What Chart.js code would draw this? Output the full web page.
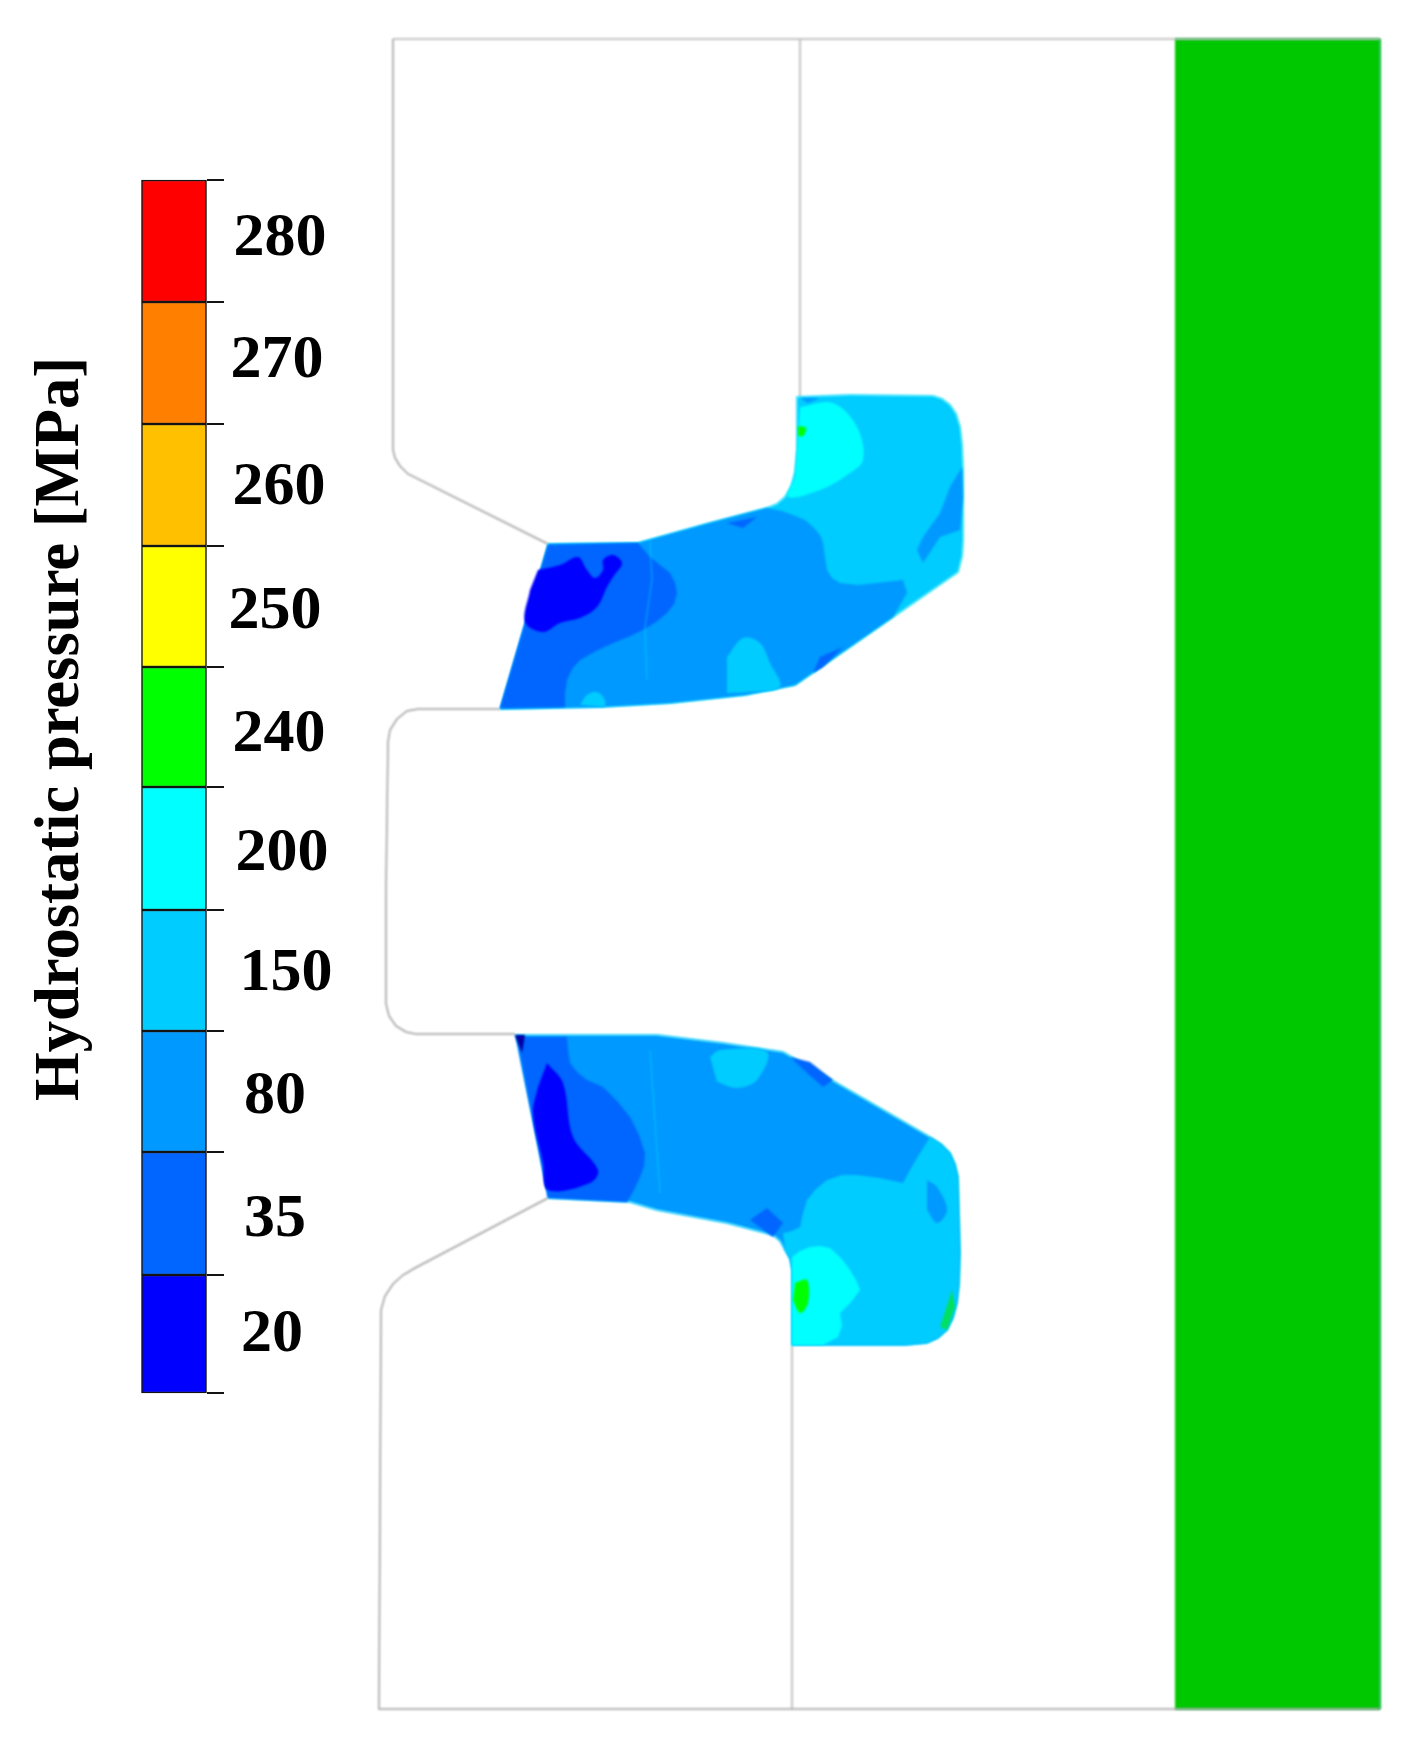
<!DOCTYPE html>
<html>
<head>
<meta charset="utf-8">
<title>Hydrostatic pressure</title>
<script src="https://cdn.jsdelivr.net/npm/chart.js@4"></script>
<style>
    html, body { margin: 0; padding: 0; background: #fff; }
    canvas { display: block; }
</style>
</head>
<body>
<canvas id="chart" width="1407" height="1744"></canvas>
<script>
// Colour scale, top to bottom
const levelLabels = ['280', '270', '260', '250', '240', '200', '150', '80', '35', '20'];
const levelEdges = [180, 302, 424, 546, 667, 787, 910, 1031, 1152, 1275, 1393];
const levelColors = ['#ff0000', '#ff7f00', '#ffc000', '#ffff00', '#00ff00', '#00ffff', '#00ccff', '#0099ff', '#0066ff', '#0000ff'];
const colorOf = {};
levelLabels.forEach((l, i) => { colorOf[l] = levelColors[i]; });

// Where the level labels sit
const labelX = [280, 277, 279, 275, 279, 282, 286, 275, 275, 272];
const labelY = [239, 361, 488, 612, 735, 854, 974, 1097, 1220, 1335];

// Tool outlines (grey lines)
const upperDie = [[393, 39], [393, 450], [395, 458], [400, 466], [408, 474], [548, 544]];
const upperTop = [[393, 39], [1380, 39]];
const upperDivider = [[800, 39], [800, 397]];
const middleDie = [[500, 709], [418, 709], [407, 711], [397, 719], [390, 730], [388, 742], [386, 890], [386, 1004], [389, 1016], [396, 1026], [406, 1032], [416, 1034], [515, 1034]];
const lowerDie = [[548, 1198], [415, 1268], [403, 1275], [393, 1284], [385, 1296], [381, 1310], [379, 1709], [1380, 1709]];
const lowerDivider = [[792, 1345], [792, 1709]];
const wall = [[1175, 39], [1380, 39], [1380, 1709], [1175, 1709]];

// Upper seal contours
const upperSeal = [[548, 544], [638, 543], [710, 523], [767, 508], [777, 504], [785, 497], [791, 487], [795, 472], [797, 450], [797, 397], [850, 395], [933, 396], [942, 399], [950, 405], [956, 414], [960, 427], [962, 445], [963, 470], [963, 540], [962, 556], [958, 572], [795, 685], [745, 695], [670, 703], [600, 707], [500, 709]];
const upper200 = [[800, 407], [833, 403], [857, 427], [863, 460], [847, 475], [820, 490], [788, 497], [795, 477]];
const upper240 = [[798, 426], [806, 428], [803, 436], [798, 436]];
const upper80 = [[638, 543], [710, 523], [767, 508], [782, 511], [793, 515], [805, 520], [813, 527], [820, 535], [823, 543], [825, 557], [827, 570], [832, 578], [840, 583], [858, 585], [877, 583], [903, 580], [907, 593], [893, 617], [795, 685], [745, 695], [670, 703], [600, 707], [500, 709], [548, 544]];
const upper150a = [[727, 657], [743, 638], [760, 643], [770, 663], [780, 687], [747, 692], [727, 693]];
const upper150b = [[580, 705], [587, 695], [597, 692], [605, 700], [605, 707]];
const upper80b = [[917, 550], [923, 537], [940, 513], [950, 487], [962, 467], [963, 497], [960, 530], [940, 537], [923, 563]];
const upper80c = [[800, 398], [820, 398], [808, 403]];
const upper35 = [[638, 543], [644, 550], [650, 557], [660, 565], [670, 573], [675, 583], [677, 593], [674, 604], [667, 613], [656, 622], [643, 630], [628, 637], [613, 643], [596, 651], [580, 660], [572, 669], [567, 680], [565, 693], [565, 707], [500, 708], [548, 545]];
const upper35b = [[820, 657], [843, 647], [823, 667], [813, 673]];
const upper35c = [[727, 523], [757, 517], [743, 528]];
const upper20 = [[538, 570], [560, 565], [578, 557], [587, 570], [595, 578], [603, 570], [603, 560], [613, 555], [622, 563], [613, 577], [607, 587], [597, 607], [580, 618], [560, 623], [543, 632], [525, 622], [530, 590]];
const upperCrack = [[650, 540], [652, 580], [645, 627], [647, 680]];

// Lower seal contours
const lowerSeal = [[515, 1035], [657, 1035], [723, 1043], [783, 1052], [823, 1075], [930, 1137], [941, 1144], [950, 1153], [955, 1164], [958, 1177], [960, 1253], [959, 1285], [957, 1303], [953, 1318], [947, 1330], [938, 1338], [927, 1343], [905, 1345], [792, 1345], [792, 1270], [790, 1259], [785, 1250], [780, 1241], [773, 1235], [727, 1223], [657, 1210], [630, 1202], [548, 1198]];
const lower150 = [[783, 1233], [792, 1231], [800, 1227], [803, 1213], [807, 1200], [816, 1189], [827, 1180], [842, 1175], [857, 1175], [880, 1178], [903, 1183], [911, 1168], [920, 1153], [930, 1137], [941, 1144], [950, 1153], [955, 1164], [958, 1177], [960, 1253], [959, 1285], [957, 1303], [953, 1318], [947, 1330], [938, 1338], [927, 1343], [905, 1345], [792, 1345], [792, 1270], [790, 1259], [785, 1250]];
const lower150b = [[710, 1057], [720, 1050], [767, 1052], [757, 1080], [737, 1088], [717, 1082]];
const lower200 = [[792, 1257], [800, 1251], [810, 1247], [820, 1246], [830, 1248], [841, 1258], [850, 1270], [856, 1280], [860, 1290], [851, 1302], [840, 1313], [842, 1326], [838, 1337], [823, 1345], [792, 1345]];
const lower240 = [[795, 1283], [807, 1280], [808, 1303], [800, 1313], [793, 1300]];
const lower240b = [[952, 1290], [955, 1307], [947, 1330], [940, 1327]];
const lower80b = [[927, 1180], [937, 1187], [947, 1210], [937, 1223], [927, 1210]];
const lower35 = [[517, 1037], [567, 1037], [568, 1050], [570, 1063], [578, 1073], [587, 1080], [603, 1087], [617, 1101], [630, 1117], [639, 1135], [645, 1153], [644, 1166], [640, 1177], [634, 1190], [627, 1202], [548, 1198]];
const lower35b = [[750, 1220], [767, 1208], [783, 1223], [773, 1237]];
const lower35c = [[790, 1057], [810, 1062], [833, 1080], [823, 1087], [807, 1073]];
const lower20 = [[547, 1063], [563, 1083], [573, 1137], [598, 1170], [590, 1183], [548, 1190], [543, 1163], [533, 1113], [538, 1087]];
const lower20b = [[515, 1035], [525, 1035], [522, 1053]];
const lowerCrack = [[650, 1050], [660, 1193]];

const axisTitle = 'Hydrostatic pressure [MPa]';

function toPoints(list) {
    return list.map(p => ({ x: p[0], y: p[1] }));
}

// tension 0 for the shapes that run along the seal edge, it would overshoot at the corners
function area(list, color, tension = 0.35) {
    return {
        data: toPoints(list), showLine: true, fill: 'shape', tension: tension,
        backgroundColor: color, borderColor: color, borderWidth: 0, pointRadius: 0
    };
}

function sealBase(list, color) {
    return {
        data: toPoints(list), showLine: true, fill: 'shape', tension: 0,
        backgroundColor: color, borderColor: 'rgba(0,225,255,0.55)', borderWidth: 2, pointRadius: 0
    };
}

function line(list, color, width) {
    return {
        data: toPoints(list), showLine: true, fill: false, tension: 0,
        borderColor: color, borderWidth: width, pointRadius: 0
    };
}

// Painting order, first is at the back
const layers = [
    { data: toPoints(wall), showLine: true, fill: 'shape', tension: 0, backgroundColor: '#00c800', borderColor: '#00b83a', borderWidth: 1, pointRadius: 0 },
    line(upperTop, '#b0b0b0', 1.5),
    line(upperDie, '#9c9c9c', 1.5),
    line(upperDivider, '#b0b0b0', 1.5),
    line(middleDie, '#9c9c9c', 1.5),
    line(lowerDie, '#9c9c9c', 1.5),
    line(lowerDivider, '#b0b0b0', 1.5),

    sealBase(upperSeal, colorOf['150']),
    area(upper200, colorOf['200']),
    area(upper240, colorOf['240']),
    area(upper80, colorOf['80'], 0),
    area(upper150a, colorOf['150']),
    area(upper150b, colorOf['150']),
    area(upper80b, colorOf['80'], 0),
    area(upper80c, colorOf['80'], 0),
    area(upper35, colorOf['35'], 0),
    area(upper35b, colorOf['35'], 0),
    area(upper35c, colorOf['35'], 0),
    area(upper20, colorOf['20']),
    line(upperCrack, 'rgba(0,225,255,0.6)', 1),

    sealBase(lowerSeal, colorOf['80']),
    area(lower150, colorOf['150'], 0),
    area(lower150b, colorOf['150']),
    area(lower200, colorOf['200'], 0),
    area(lower240, colorOf['240']),
    area(lower240b, '#00e060', 0),
    area(lower80b, colorOf['80']),
    area(lower35, colorOf['35'], 0),
    area(lower35b, colorOf['35'], 0),
    area(lower35c, colorOf['35'], 0),
    area(lower20, colorOf['20']),
    area(lower20b, '#0000a0', 0),
    line(lowerCrack, 'rgba(0,225,255,0.6)', 1)
];

// Colour bar bands and their tick marks
const barDataset = {
    type: 'bar',
    crisp: true,
    data: levelLabels.map((l, i) => ({ x: 174, y: [levelEdges[i], levelEdges[i + 1]] })),
    backgroundColor: levelColors,
    borderColor: '#141414',
    borderWidth: 1.5,
    borderSkipped: false,
    barThickness: 65
};
const tickDatasets = levelEdges.map(y => Object.assign(line([[207, y], [224, y]], '#141414', 2), { crisp: true }));

// Reference is a soft scan, so the seal and tool marks get a slight blur,
// the colour bar stays sharp and the text plugin clears the filter
const softenPlugin = {
    id: 'soften',
    beforeDatasetsDraw(chart) {
        chart.ctx.filter = 'blur(0.8px)';
    },
    beforeDatasetDraw(chart, args) {
        chart.ctx.filter = chart.data.datasets[args.index].crisp ? 'none' : 'blur(0.8px)';
    }
};

// Level labels and the rotated title
const textPlugin = {
    id: 'barText',
    afterDatasetsDraw(chart) {
        const { ctx, scales } = chart;
        ctx.filter = 'none';
        ctx.save();
        ctx.fillStyle = '#000';
        ctx.textAlign = 'center';
        ctx.textBaseline = 'middle';
        ctx.font = 'bold 62px "Liberation Serif"';
        levelLabels.forEach((l, i) => {
            ctx.fillText(l, scales.x.getPixelForValue(labelX[i]), scales.y.getPixelForValue(labelY[i]));
        });
        ctx.translate(scales.x.getPixelForValue(62), scales.y.getPixelForValue(729));
        ctx.rotate(-Math.PI / 2);
        ctx.font = 'bold 62.6px "Liberation Serif"';
        ctx.fillText(axisTitle, 0, 0);
        ctx.restore();
    }
};

new Chart(document.getElementById('chart').getContext('2d'), {
    type: 'scatter',
    data: {
        // Chart.js paints the first dataset on top
        datasets: layers.concat([barDataset], tickDatasets).reverse()
    },
    options: {
        responsive: false,
        animation: false,
        layout: { padding: 0 },
        scales: {
            x: { type: 'linear', min: 0, max: 1407, offset: false, display: false, grid: { display: false } },
            y: { type: 'linear', min: 0, max: 1744, reverse: true, display: false, grid: { display: false } }
        },
        plugins: {
            legend: { display: false },
            tooltip: { enabled: false }
        }
    },
    plugins: [softenPlugin, textPlugin]
});
</script>
</body>
</html>
